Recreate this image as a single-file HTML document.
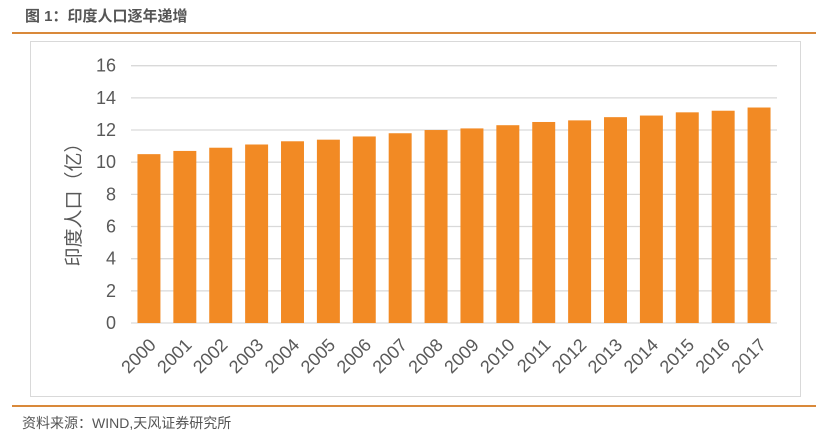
<!DOCTYPE html>
<html><head><meta charset="utf-8">
<style>
body{margin:0;background:#fff;width:828px;height:440px;overflow:hidden;font-family:"Liberation Sans","Noto Sans CJK SC",sans-serif}
</style></head><body>
<svg width="828" height="440" xmlns="http://www.w3.org/2000/svg">
<text x="25" y="21" font-size="15" font-weight="bold" fill="#555" font-family="Liberation Sans,Noto Sans CJK SC,sans-serif">图 1：印度人口逐年递增</text>
<line x1="12" y1="33" x2="816" y2="33" stroke="#d9893a" stroke-width="2"/>
<rect x="30.5" y="41.5" width="770" height="355" fill="none" stroke="#d9d9d9"/>
<g id="grid"></g>
<g id="bars"></g>
<g id="xl"></g>
<g id="yl"></g>
<text transform="translate(80,200) rotate(-90)" text-anchor="middle" font-size="19" fill="#595959" font-family="Liberation Sans,Noto Sans CJK SC,sans-serif">印度人口（亿）</text>
<line x1="12" y1="406" x2="816" y2="406" stroke="#d9893a" stroke-width="2"/>
<text x="22" y="428" font-size="14" fill="#555" font-family="Liberation Sans,Noto Sans CJK SC,sans-serif">资料来源：WIND,天风证券研究所</text>
</svg>
<script>
const categories=["2000","2001","2002","2003","2004","2005","2006","2007","2008","2009","2010","2011","2012","2013","2014","2015","2016","2017"];
const values=[10.5,10.7,10.9,11.1,11.3,11.4,11.6,11.8,12.0,12.1,12.3,12.5,12.6,12.8,12.9,13.1,13.2,13.4];
const yTicks=[0,2,4,6,8,10,12,14,16];
const NS="http://www.w3.org/2000/svg";
const x0=131,x1=777,y0=323,yTop=65.7,yMax=16;
const bw=(x1-x0)/categories.length;
const ys=v=>y0-(v/yMax)*(y0-yTop);
const xs=i=>x0+bw*i;
const grid=document.getElementById('grid'),bars=document.getElementById('bars'),xl=document.getElementById('xl'),yl=document.getElementById('yl');
yTicks.forEach(t=>{
 const l=document.createElementNS(NS,'line');
 
 
 l.setAttribute('x1',x0);l.setAttribute('x2',x1);l.setAttribute('y1',ys(t));l.setAttribute('y2',ys(t));
 l.setAttribute('stroke','#d9d9d9');l.setAttribute('stroke-width','1.3');grid.appendChild(l);
 const tx=document.createElementNS(NS,'text');
 
 
 tx.setAttribute('x',116);tx.setAttribute('y',ys(t)+6);tx.setAttribute('text-anchor','end');
 tx.setAttribute('font-size','18');tx.setAttribute('fill','#595959');tx.textContent=t;yl.appendChild(tx);
});
categories.forEach((c,i)=>{
 const r=document.createElementNS(NS,'rect');
 
 
 const w=bw*0.64;
 r.setAttribute('x',xs(i)+(bw-w)/2);r.setAttribute('width',w);
 r.setAttribute('y',ys(values[i]));r.setAttribute('height',y0-ys(values[i]));
 r.setAttribute('fill','#f28a24');bars.appendChild(r);
 const t=document.createElementNS(NS,'text');
 
 
 const cx=xs(i)+bw/2+8,cy=346;
 t.setAttribute('transform','translate('+cx+','+cy+') rotate(-45)');
 t.setAttribute('text-anchor','end');t.setAttribute('font-size','18');t.setAttribute('fill','#595959');
 t.textContent=c;xl.appendChild(t);
});
</script>
</body></html>
